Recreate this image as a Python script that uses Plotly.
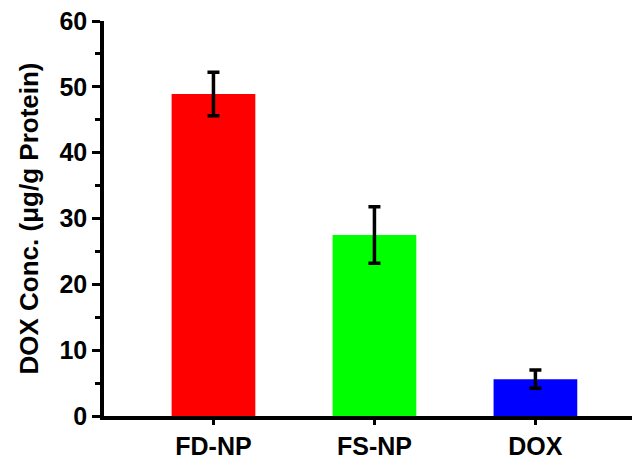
import plotly.graph_objects as go

# Intracellular DOX uptake per formulation
groups = ["FD-NP", "FS-NP", "DOX"]
dox_conc = [48.9, 27.5, 5.6]
dox_err = [3.3, 4.3, 1.4]
bar_colors = ["#ff0000", "#00ff00", "#0000ff"]

y_ticks = [0, 10, 20, 30, 40, 50, 60]

font_family = "Liberation Sans, Arial, sans-serif"

fig = go.Figure(
    go.Bar(
        x=list(range(len(groups))),
        y=dox_conc,
        width=0.52,
        marker=dict(color=bar_colors, line=dict(width=0)),
        error_y=dict(
            type="data",
            array=dox_err,
            visible=True,
            color="black",
            thickness=3.5,
            width=6,
        ),
    )
)

fig.update_layout(
    width=635,
    height=459,
    margin=dict(l=104, r=3, t=21, b=43),
    paper_bgcolor="white",
    plot_bgcolor="white",
    showlegend=False,
    font=dict(family=font_family, color="black"),
    xaxis=dict(
        range=[-0.68, 2.6],
        tickvals=list(range(len(groups))),
        ticktext=[f"<b>{g}</b>" for g in groups],
        tickfont=dict(size=25),
        ticks="outside",
        ticklen=5,
        tickwidth=3,
        tickcolor="black",
        showline=True,
        linecolor="black",
        linewidth=3.5,
        showgrid=False,
        zeroline=False,
        automargin=False,
    ),
    yaxis=dict(
        range=[0, 60],
        tickvals=y_ticks,
        ticktext=[f"<b>{v}</b>" for v in y_ticks],
        tickfont=dict(size=25),
        ticks="outside",
        ticklen=8,
        tickwidth=3,
        tickcolor="black",
        minor=dict(dtick=5, ticks="outside", ticklen=5, tickwidth=3, tickcolor="black"),
        showline=True,
        linecolor="black",
        linewidth=3.5,
        showgrid=False,
        zeroline=False,
        automargin=False,
        title=dict(
            text="<b>DOX Conc. (μg/g Protein)</b>",
            font=dict(size=26),
            standoff=14,
        ),
    ),
)

fig.write_html("out.html")
